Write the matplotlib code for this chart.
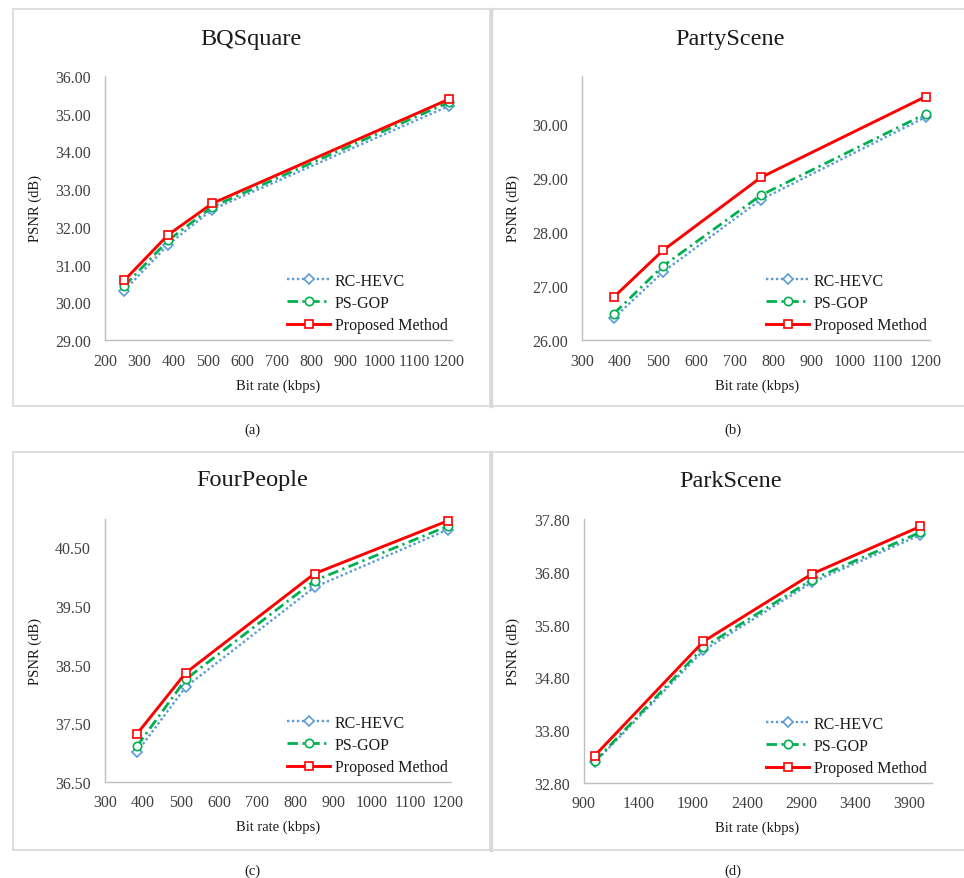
import matplotlib
matplotlib.use('Agg')
import matplotlib.pyplot as plt
from matplotlib.patches import Rectangle
from matplotlib.lines import Line2D

plt.rcParams['font.family'] = ['Liberation Serif', 'DejaVu Serif']

# ---------------- data ----------------
series_names = ['RC-HEVC', 'PS-GOP', 'Proposed Method']

bq_rate = [256, 384, 512, 1200]
bq_rc = [30.31, 31.53, 32.46, 35.20]
bq_ps = [30.43, 31.64, 32.53, 35.30]
bq_prop = [30.58, 31.79, 32.62, 35.38]

party_rate = [384, 512, 768, 1200]
party_rc = [26.41, 27.26, 28.60, 30.13]
party_ps = [26.49, 27.37, 28.68, 30.19]
party_prop = [26.80, 27.66, 29.01, 30.51]

four_rate = [384, 512, 850, 1200]
four_rc = [37.01, 38.12, 39.82, 40.80]
four_ps = [37.11, 38.25, 39.93, 40.86]
four_prop = [37.32, 38.36, 40.05, 40.95]

park_rate = [1000, 2000, 3000, 4000]
park_rc = [33.19, 35.31, 36.60, 37.50]
park_ps = [33.21, 35.37, 36.65, 37.55]
park_prop = [33.32, 35.48, 36.76, 37.66]

titles = ['BQSquare', 'PartyScene', 'FourPeople', 'ParkScene']
captions = ['(a)', '(b)', '(c)', '(d)']
x_label = 'Bit rate (kbps)'
y_label = 'PSNR (dB)'

bq_xticks = list(range(200, 1201, 100))
party_xticks = list(range(300, 1201, 100))
four_xticks = list(range(300, 1201, 100))
park_xticks = list(range(900, 3901, 500))
bq_yticks = [29, 30, 31, 32, 33, 34, 35, 36]
party_yticks = [26, 27, 28, 29, 30]
four_yticks = [36.5, 37.5, 38.5, 39.5, 40.5]
park_yticks = [32.8, 33.8, 34.8, 35.8, 36.8, 37.8]

# ---------------- layout ----------------
W, H = 964, 879
fig = plt.figure(figsize=(W / 100, H / 100), dpi=100)
fig.patch.set_facecolor('white')

def fx(px):
    return px / W

def fy(py):
    return 1 - py / H

frame_col = '#d9d9d9'
text_col = '#404040'

# panel frames
for (l, t, r, b) in [(13, 10, 490, 407), (492, 10, 966, 407),
                     (13, 453, 490, 851), (492, 453, 966, 851)]:
    fig.patches.append(Rectangle((fx(l), fy(b)), (r - l) / W, (b - t) / H,
                                 transform=fig.transFigure, fill=False,
                                 edgecolor=frame_col, lw=1.2))
for (t, b) in [(10, 407), (453, 851)]:
    fig.lines.append(Line2D([fx(491), fx(491)], [fy(t), fy(b)],
                            transform=fig.transFigure, color=frame_col, lw=2.5))

panels = [
    dict(rect=(105, 77, 452, 341), x=bq_rate, ys=(bq_rc, bq_ps, bq_prop),
         xlim=(200, 1210), ylim=(29, 36), xt=bq_xticks, yt=bq_yticks,
         title=(251, 39), cap=(252, 430), xl=(278, 386), yl=(35, 209),
         leg=(287, 281)),
    dict(rect=(582, 77, 930, 341), x=party_rate, ys=(party_rc, party_ps, party_prop),
         xlim=(300, 1211), ylim=(26, 30.89), xt=party_xticks, yt=party_yticks,
         title=(730, 39), cap=(733, 430), xl=(757, 386), yl=(513, 209),
         leg=(766, 281)),
    dict(rect=(105, 520, 451, 783), x=four_rate, ys=(four_rc, four_ps, four_prop),
         xlim=(300, 1208), ylim=(36.5, 40.98), xt=four_xticks, yt=four_yticks,
         title=(252, 481), cap=(252, 871), xl=(278, 827), yl=(35, 652),
         leg=(287, 723)),
    dict(rect=(584, 520, 932, 784), x=park_rate, ys=(park_rc, park_ps, park_prop),
         xlim=(900, 4106), ylim=(32.8, 37.8), xt=park_xticks, yt=park_yticks,
         title=(731, 482), cap=(733, 871), xl=(757, 828), yl=(513, 652),
         leg=(766, 724)),
]

styles = [
    dict(color='#5b9bd5', lw=1.7, ls=(0, (1, 1.1)), marker='D', ms=5.0),
    dict(color='#00b050', lw=2.0, ls=(0, (3.8, 1.6, 0.8, 1.6)), marker='o', ms=6.0),
    dict(color='#ff0000', lw=2.1, ls='-', marker='s', ms=6.0),
]

for i, p in enumerate(panels):
    l, t, r, b = p['rect']
    ax = fig.add_axes([fx(l), fy(b), (r - l) / W, (b - t) / H])
    for name, yv, st in zip(series_names, p['ys'], styles):
        ax.plot(p['x'], yv, color=st['color'], lw=st['lw'], linestyle=st['ls'],
                marker=st['marker'], ms=st['ms'], mfc='white', mec=st['color'],
                mew=1.2, label=name, clip_on=False)
    ax.set_xlim(*p['xlim'])
    ax.set_ylim(*p['ylim'])
    ax.set_xticks(p['xt'])
    ax.set_yticks(p['yt'])
    ax.set_xticklabels([str(v) for v in p['xt']])
    ax.set_yticklabels(['%.2f' % v for v in p['yt']])
    ax.tick_params(length=0, labelsize=11.5, colors=text_col)
    ax.tick_params(axis='y', pad=10)
    ax.tick_params(axis='x', pad=9)
    for s in ['top', 'right']:
        ax.spines[s].set_visible(False)
    for s in ['left', 'bottom']:
        ax.spines[s].set_color('#bfbfbf')
        ax.spines[s].set_linewidth(1.0)
    ax.patch.set_alpha(0)

    lx, ly = p['leg']
    ax.legend(loc='upper left', bbox_to_anchor=(fx(lx), fy(ly - 7)),
              bbox_transform=fig.transFigure, frameon=False, fontsize=11.5,
              borderpad=0, borderaxespad=0, handlelength=2.7,
              handletextpad=0.3, labelspacing=0.38, labelcolor='#1a1a1a')

    tx, ty = p['title']
    fig.text(fx(tx), fy(ty), titles[i], ha='center', va='center', fontsize=17.5,
             color='#1a1a1a')
    cx, cy = p['cap']
    fig.text(fx(cx), fy(cy), captions[i], ha='center', va='center', fontsize=10.5,
             color='#1a1a1a')
    xx, xy = p['xl']
    fig.text(fx(xx), fy(xy), x_label, ha='center', va='center', fontsize=10.5,
             color='#1a1a1a')
    yx, yy = p['yl']
    fig.text(fx(yx), fy(yy), y_label, ha='center', va='center', fontsize=10.5,
             rotation=90, color='#1a1a1a')

fig.savefig('out.png', dpi=100, facecolor='white')
